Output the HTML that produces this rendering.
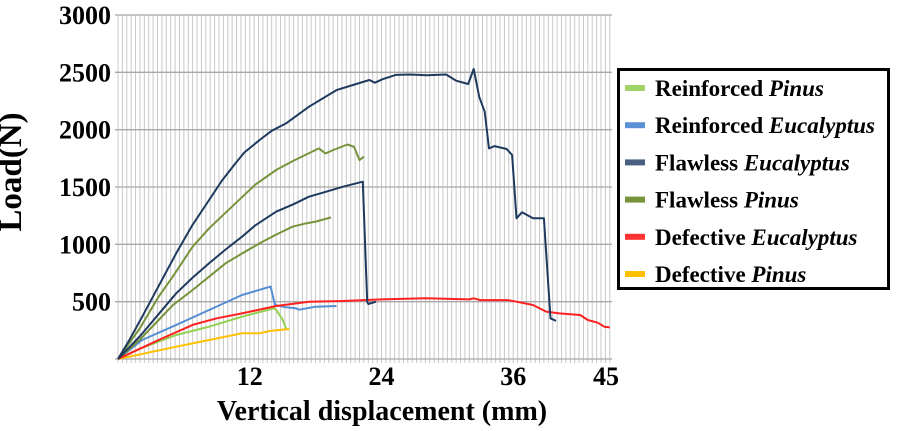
<!DOCTYPE html>
<html><head><meta charset="utf-8"><style>
body{margin:0;background:#fff;width:897px;height:431px;overflow:hidden}
svg{display:block}
text{font-family:"Liberation Serif","DejaVu Serif",serif;font-weight:bold}
</style></head><body>
<svg id="chart" width="897" height="431">
<g id="grid"></g>
<g id="series"></g>
<g id="axes"></g>
<text x="21" y="172" font-size="33" text-anchor="middle" transform="rotate(-90 21 172)">Load(N)</text>
<text x="382" y="420" font-size="28" text-anchor="middle">Vertical displacement (mm)</text>
<g>
<rect x="618.5" y="69.5" width="270" height="219" fill="#fff" stroke="#000" stroke-width="3"/>
<g id="legendItems"></g>
</g>
</svg>
<script>
const xTicks=[12,24,36,45];
const yTicks=[500,1000,1500,2000,2500,3000];
const names=["Reinforced|Pinus","Reinforced|Eucalyptus","Flawless|Eucalyptus","Flawless|Pinus","Defective|Eucalyptus","Defective|Pinus"];
const colors=["#92d050","#558ed5","#1f3a5f","#77933c","#ff2020","#ffc000"];
const legendColors=["#a0d468","#5b8fd6","#4a6080","#77933c","#ff3333","#ffc000"];
const reinforcedPinusX=[0,2,5.3,8.3,11.3,14.2,14.4,15.0,15.3];
const reinforcedPinusY=[0,90,209,282,369,442,430,343,267];
const reinforcedEucX=[0,2.2,5.3,8.3,11.3,13.9,14.3,15.3,16.2,16.5,18.0,19.9];
const reinforcedEucY=[0,166,297,427,558,631,471,451,442,430,456,462];
const flawlessEuc1X=[0,1,2.2,3.5,5.3,6.8,8.3,9.5,10.7,11.5,12.9,14,15.3,17.4,19.9,21.7,22.9,23.4,24.1,25.3,26.6,28.1,29.9,30.8,31.9,32.4,32.9,33.4,33.8,34.3,35.4,35.9,36.3,36.8,37.8,38.8,39.4,39.9];
const flawlessEuc1Y=[0,160,369,600,922,1170,1387,1560,1707,1800,1910,1990,2055,2200,2345,2398,2433,2410,2440,2478,2481,2475,2481,2427,2398,2529,2287,2157,1837,1857,1831,1779,1227,1279,1227,1227,355,332];
const flawlessEuc2X=[0,2,5.3,6.8,8.3,9.8,11.3,12.5,14.4,16,17.4,19,20.5,22.3,22.7,22.8,23.5];
const flawlessEuc2Y=[0,200,573,710,835,955,1067,1165,1285,1350,1415,1460,1503,1546,500,480,500];
const flawlessPinus1X=[0,2,3.7,5,6.8,8.3,10.7,12.5,14.4,16,18.3,18.9,19.6,20.9,21.5,22.0,22.4];
const flawlessPinus1Y=[0,270,543,720,979,1140,1358,1520,1648,1730,1837,1793,1823,1871,1851,1735,1764];
const flawlessPinus2X=[0,2,3.7,5,6.8,9.8,11.3,12.9,14.4,15.9,17,18.0,19.4];
const flawlessPinus2Y=[0,170,340,470,602,835,920,1009,1085,1154,1180,1198,1235];
const defectiveEucX=[0,2,3.7,6.8,9,11.3,14.4,17.4,20.5,24,28,32,32.4,33,35.5,36.3,37.8,39.0,40.2,42.1,42.8,43.7,44.3,44.8];
const defectiveEucY=[0,90,166,297,355,398,462,500,506,520,529,520,529,514,514,500,471,413,398,384,340,317,282,276];
const defectivePinusX=[0,5.3,8.3,11.3,12.9,13.8,15.6];
const defectivePinusY=[0,107,166,224,224,244,262];
const seriesList=[
 ["reinforced-pinus",reinforcedPinusX,reinforcedPinusY,0],
 ["reinforced-eucalyptus",reinforcedEucX,reinforcedEucY,1],
 ["flawless-pinus-1",flawlessPinus1X,flawlessPinus1Y,3],
 ["flawless-pinus-2",flawlessPinus2X,flawlessPinus2Y,3],
 ["defective-pinus",defectivePinusX,defectivePinusY,5],
 ["defective-eucalyptus",defectiveEucX,defectiveEucY,4],
 ["flawless-eucalyptus-1",flawlessEuc1X,flawlessEuc1Y,2],
 ["flawless-eucalyptus-2",flawlessEuc2X,flawlessEuc2Y,2]
];
const X0=118,X1=612,Y0=359,Y1=15,XMAX=45,YMAX=3000;
const sx=v=>X0+(X1-X0)*v/XMAX;
const sy=v=>Y0-(Y0-Y1)*v/YMAX;
const NS="http://www.w3.org/2000/svg";
function mk(tag,attrs,parent){const e=document.createElementNS(NS,tag);for(const k in attrs)e.setAttribute(k,attrs[k]);parent.appendChild(e);return e;}
const grid=document.getElementById('grid');
for(let v=0;v<=XMAX+0.001;v+=0.4){
 const l=mk('line',{x1:sx(v),x2:sx(v),y1:Y1,y2:Y0+4,stroke:'#c8c8c8','stroke-width':1},grid);
 
 
}
for(let v=0;v<=YMAX;v+=500){
 const l=mk('line',{x1:X0-3,x2:X1,y1:sy(v),y2:sy(v),stroke:'#a8a8a8','stroke-width':1.3},grid);
 
 
}
const axes=document.getElementById('axes');
yTicks.forEach(t=>{
 const e=mk('text',{x:111,y:sy(t)+9,'font-size':26,'text-anchor':'end'},axes);e.textContent=t;
 
 
});
xTicks.forEach(t=>{
 const e=mk('text',{x:t===XMAX?sx(t)-6:sx(t),y:385,'font-size':26,'text-anchor':'middle'},axes);e.textContent=t;
 
 
});
const sg=document.getElementById('series');
seriesList.forEach(s=>{
 const pts=s[1].map((x,i)=>sx(x).toFixed(1)+','+sy(s[2][i]).toFixed(1)).join(' ');
 const p=mk('polyline',{points:pts,fill:'none',stroke:colors[s[3]],'stroke-width':2,'stroke-linejoin':'round'},sg);
 
 
});
const lg=document.getElementById('legendItems');
names.forEach((n,i)=>{
 const y=88+i*37.2;
 const r=mk('rect',{x:625,y:y-3,width:20,height:6,fill:legendColors[i]},lg);
 
 
 const t=mk('text',{x:655,y:y+8,'font-size':23},lg);
 
 
 const [a,b]=n.split('|');
 const t1=mk('tspan',{},t);t1.textContent=a+' ';
 const t2=mk('tspan',{'font-style':'italic'},t);t2.textContent=b;
});
</script>
</body></html>
